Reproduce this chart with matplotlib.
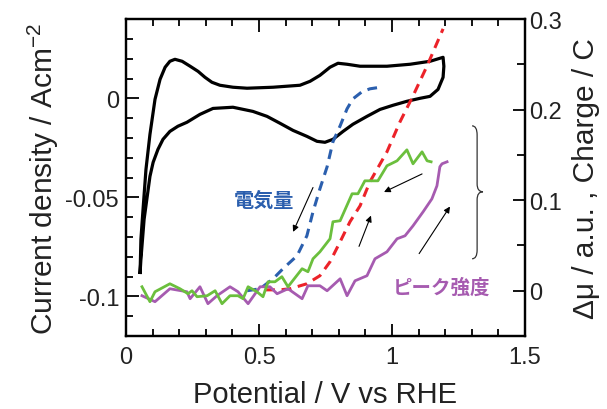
import matplotlib
matplotlib.use("Agg")
import matplotlib.pyplot as plt
from matplotlib.path import Path
from matplotlib.patches import PathPatch
from matplotlib.ticker import MultipleLocator

plt.rcParams['font.family'] = ['Liberation Sans', 'DejaVu Sans']
plt.rcParams['mathtext.fontset'] = 'custom'
plt.rcParams['mathtext.rm'] = 'Liberation Sans'
plt.rcParams['mathtext.it'] = 'Liberation Sans:italic'

# CV curve (left axis), forward then return scan
cv_x = [0.053, 0.056, 0.064, 0.075, 0.090, 0.109, 0.128, 0.147, 0.165, 0.184, 0.211, 0.241,
        0.271, 0.297, 0.323, 0.353, 0.402, 0.455, 0.553, 0.654, 0.692, 0.729, 0.767, 0.797,
        0.831, 0.880, 0.981, 1.068, 1.143, 1.192,
        1.195, 1.192, 1.173, 1.143, 1.105, 1.056, 1.004, 0.955, 0.906, 0.853, 0.816, 0.778,
        0.748, 0.718, 0.680, 0.628, 0.579, 0.530, 0.477, 0.402, 0.327, 0.278, 0.229, 0.195,
        0.165, 0.139, 0.120, 0.102, 0.090, 0.068, 0.056, 0.053]
cv_y = [-0.0879, -0.0712, -0.0561, -0.0359, -0.0182, -0.0005, 0.0096, 0.0157, 0.0187, 0.0197,
        0.0187, 0.0162, 0.0136, 0.0106, 0.0081, 0.0066, 0.0056, 0.0051, 0.0056, 0.0066,
        0.0086, 0.0116, 0.0157, 0.0177, 0.0172, 0.0162, 0.0162, 0.0172, 0.0187, 0.0207,
        0.0162, 0.0106, 0.0045, 0.0010, 0.0, -0.0015, -0.0035, -0.0056, -0.0091, -0.0131,
        -0.0167, -0.0207, -0.0222, -0.0217, -0.0192, -0.0162, -0.0126, -0.0091, -0.0066,
        -0.0045, -0.0051, -0.0081, -0.0121, -0.0141, -0.0167, -0.0207, -0.0258, -0.0323,
        -0.0394, -0.0611, -0.0813, -0.0879]

# charge (blue dashed, right axis)
q_blue_x = [0.455, 0.504, 0.553, 0.590, 0.643, 0.680, 0.703, 0.729, 0.756, 0.778, 0.805,
            0.831, 0.853, 0.887, 0.917, 0.966]
q_blue_y = [0.0, 0.0022, 0.0132, 0.0243, 0.0386, 0.0607, 0.0872, 0.1126, 0.1369, 0.1645,
            0.1821, 0.2009, 0.2119, 0.2197, 0.2230, 0.2252]

# charge (red dashed, right axis)
q_red_x = [0.523, 0.579, 0.617, 0.680, 0.729, 0.767, 0.805, 0.842, 0.880, 0.917, 0.981,
           1.030, 1.079, 1.132, 1.192]
q_red_y = [0.001, 0.001, 0.0022, 0.0077, 0.0166, 0.0320, 0.0541, 0.0762, 0.0938, 0.1203,
           0.1534, 0.1865, 0.2152, 0.2484, 0.2892]

# delta mu (green)
dmu_g_x = [0.060, 0.090, 0.109, 0.165, 0.203, 0.233, 0.248, 0.267, 0.305, 0.335, 0.361,
           0.391, 0.421, 0.440, 0.459, 0.492, 0.515, 0.534, 0.560, 0.586, 0.609, 0.662,
           0.684, 0.703, 0.729, 0.767, 0.778, 0.805, 0.850, 0.872, 0.898, 0.947, 0.981,
           1.019, 1.056, 1.079, 1.113, 1.132, 1.147]
dmu_g_y = [0.0044, -0.0121, -0.0011, 0.0077, 0.0022, -0.0033, 0.0, -0.0066, -0.0055, 0.0,
           -0.0143, -0.0055, -0.0055, -0.0088, 0.0044, -0.0011, -0.0066, 0.0099, 0.0099,
           0.0155, 0.0044, 0.0243, 0.0210, 0.0353, 0.0430, 0.0574, 0.0762, 0.0773, 0.1071,
           0.1071, 0.1214, 0.1214, 0.1380, 0.1435, 0.1556, 0.1402, 0.1534, 0.1435, 0.1424]

# peak intensity (purple)
dmu_p_x = [0.060, 0.109, 0.165, 0.229, 0.241, 0.278, 0.308, 0.342, 0.391, 0.421, 0.459,
           0.504, 0.541, 0.568, 0.609, 0.662, 0.684, 0.729, 0.756, 0.805, 0.831, 0.861,
           0.906, 0.936, 0.981, 1.019, 1.049, 1.079, 1.117, 1.150, 1.169, 1.180, 1.188, 1.207]
dmu_p_y = [-0.0055, -0.0121, 0.0022, -0.0011, -0.0088, 0.0044, -0.0143, -0.0055, 0.0044,
           -0.0011, -0.0143, 0.0044, 0.0044, -0.0033, 0.0022, -0.0088, 0.0055, 0.0055, 0.0,
           0.0132, -0.0055, 0.0110, 0.0166, 0.0353, 0.0430, 0.0574, 0.0607, 0.0717, 0.0872,
           0.1015, 0.1159, 0.1369, 0.1402, 0.1424]

# arrows (tail x, tail y, head x, head y) in right-axis data units
arrows = [(0.703, 0.114, 0.628, 0.065),
          (1.113, 0.129, 0.970, 0.109),
          (0.876, 0.049, 0.921, 0.083),
          (1.102, 0.041, 1.218, 0.093)]

BLUE = '#2b5fae'
RED = '#ec2229'
GREEN = '#6bbf3d'
PURPLE = '#a65bb0'
TXT = '#222222'

fig = plt.figure(figsize=(6.07, 4.10), dpi=100)
ax = fig.add_axes([0.2076, 0.178, 0.6573, 0.773])
ax2 = ax.twinx()

ax.plot(cv_x, cv_y, color='black', lw=2.3, solid_joinstyle='round', zorder=3)
ax2.plot(q_blue_x, q_blue_y, color=BLUE, lw=2.2, ls=(0, (3.2, 2.2)))
ax2.plot(q_red_x, q_red_y, color=RED, lw=2.2, ls=(0, (3.2, 2.2)))
ax2.plot(dmu_p_x, dmu_p_y, color=PURPLE, lw=2.0)
ax2.plot(dmu_g_x, dmu_g_y, color=GREEN, lw=2.0)

for x0, y0, x1, y1 in arrows:
    ax2.annotate('', xy=(x1, y1), xytext=(x0, y0),
                 arrowprops=dict(arrowstyle='-|>', color='black', lw=0.8,
                                 mutation_scale=9, shrinkA=0, shrinkB=0))

# curly brace
bx0, bx1, bx2 = 1.301, 1.320, 1.342
verts = [(bx0, 0.1821), (bx1, 0.1821), (bx1, 0.172),
         (bx1, 0.118), (bx1, 0.1093), (bx2, 0.1093),
         (bx1, 0.1093), (bx1, 0.1006),
         (bx1, 0.045), (bx1, 0.0353), (bx0, 0.0353)]
codes = [Path.MOVETO, Path.CURVE3, Path.CURVE3,
         Path.LINETO, Path.CURVE3, Path.CURVE3,
         Path.CURVE3, Path.CURVE3,
         Path.LINETO, Path.CURVE3, Path.CURVE3]
ax2.add_patch(PathPatch(Path(verts, codes), fill=False, lw=0.9, color='#333333'))

cjk = ['Noto Sans CJK JP', 'DejaVu Sans']
ax2.text(0.519, 0.1016, '電気量', color=BLUE, fontsize=14.5, fontweight='bold',
         family=cjk, ha='center', va='center')
ax2.text(1.188, 0.0044, 'ピーク強度', color=PURPLE, fontsize=14, fontweight='bold',
         family=cjk, ha='center', va='center')

ax.set_xlim(0, 1.5)
ax.set_ylim(-0.12, 0.04)
ax2.set_ylim(-0.05, 0.3)

ax.xaxis.set_major_locator(MultipleLocator(0.5))
ax.xaxis.set_minor_locator(MultipleLocator(0.1))
ax.yaxis.set_major_locator(MultipleLocator(0.05))
ax.yaxis.set_minor_locator(MultipleLocator(0.01))
ax2.yaxis.set_major_locator(MultipleLocator(0.1))
ax2.yaxis.set_minor_locator(MultipleLocator(0.05))

ax.set_xticks([0, 0.5, 1, 1.5])
ax.set_xticklabels(['0', '0.5', '1', '1.5'])
ax.set_yticks([-0.1, -0.05, 0])
ax.set_yticklabels(['-0.1', '-0.05', '0'])
ax2.set_yticks([0, 0.1, 0.2, 0.3])
ax2.set_yticklabels(['0', '0.1', '0.2', '0.3'])

ax.tick_params(axis='x', which='both', direction='in', top=True, labelsize=17, pad=7,
               width=1.3, labelcolor=TXT)
ax.tick_params(axis='y', which='both', direction='in', labelsize=17, pad=5, width=1.3,
               labelcolor=TXT)
ax.tick_params(which='major', length=9)
ax.tick_params(which='minor', length=5)
ax2.tick_params(axis='y', which='both', direction='in', labelsize=17, pad=3, width=1.3,
                labelcolor=TXT)
ax2.tick_params(which='major', length=9)
ax2.tick_params(which='minor', length=6)

for a in (ax, ax2):
    for s in a.spines.values():
        s.set_linewidth(1.6)

ax.set_xlabel('Potential / V vs RHE', fontsize=21, color=TXT, labelpad=9)
ax.set_ylabel(r'Current density / Acm$^{\mathregular{-2}}$', fontsize=21.5, color=TXT,
              labelpad=3)
ax2.set_ylabel('Δμ / a.u. , Charge / C', fontsize=21.5, color=TXT, labelpad=7)

fig.savefig('out.png', dpi=100)
